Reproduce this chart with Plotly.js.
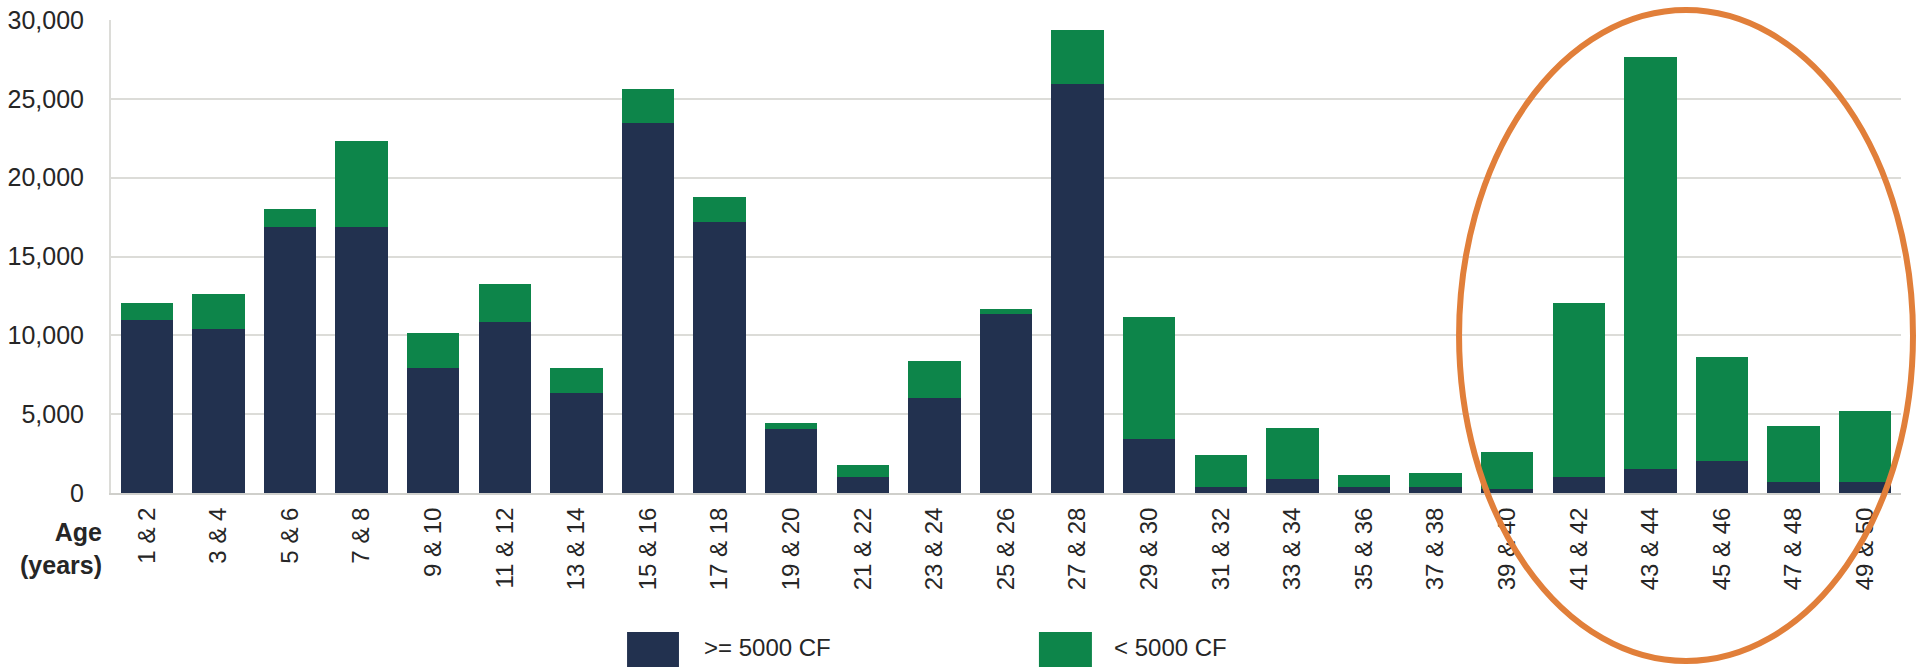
<!DOCTYPE html>
<html>
<head>
<meta charset="utf-8">
<script src="https://cdn.plot.ly/plotly-3.0.1.min.js"></script>
<style>
  html, body { margin: 0; padding: 0; background: #ffffff; }
  #chart { width: 1929px; height: 667px; }
</style>
</head>
<body>
<div id="chart"></div>
<script>
// Age groups (years)
const categories = ["1 & 2", "3 & 4", "5 & 6", "7 & 8", "9 & 10", "11 & 12", "13 & 14",
  "15 & 16", "17 & 18", "19 & 20", "21 & 22", "23 & 24", "25 & 26", "27 & 28", "29 & 30",
  "31 & 32", "33 & 34", "35 & 36", "37 & 38", "39 & 40", "41 & 42", "43 & 44", "45 & 46",
  "47 & 48", "49 & 50"];

// >= 5000 CF
const largeCF = [10950, 10400, 16850, 16850, 7900, 10850, 6350, 23450, 17200, 4050, 1000,
  6050, 11350, 25950, 3400, 350, 900, 350, 400, 250, 1000, 1550, 2050, 700, 700];

// < 5000 CF
const smallCF = [1100, 2200, 1150, 5450, 2250, 2400, 1550, 2200, 1550, 400, 800, 2300, 350,
  3400, 7750, 2050, 3200, 800, 850, 2350, 11050, 26100, 6550, 3550, 4500];

const seriesNames = [">= 5000 CF", "< 5000 CF"];
const seriesColors = ["#22314f", "#0d854a"];

const yTickVals = [0, 5000, 10000, 15000, 20000, 25000, 30000];

const font = "Liberation Sans, Arial, Helvetica, sans-serif";

const traces = [
  {
    type: "bar", name: seriesNames[0], x: categories, y: largeCF,
    marker: { color: seriesColors[0], line: { width: 0 } }
  },
  {
    type: "bar", name: seriesNames[1], x: categories, y: smallCF,
    marker: { color: seriesColors[1], line: { width: 0 } }
  }
];

const layout = {
  width: 1929, height: 667,
  margin: { l: 111, r: 28, t: 20, b: 174 },
  paper_bgcolor: "#ffffff", plot_bgcolor: "#ffffff",
  barmode: "stack",
  bargap: 0.27,
  showlegend: false,
  font: { family: font, color: "#262626", size: 24 },
  xaxis: {
    type: "category",
    tickangle: -90,
    showline: true, linecolor: "#cfcfcb", linewidth: 2,
    showgrid: false, zeroline: false,
    ticks: "outside", ticklen: 3, tickcolor: "rgba(0,0,0,0)",
    tickfont: { family: font, size: 24, color: "#262626" }
  },
  yaxis: {
    range: [0, 30000],
    tickvals: yTickVals,
    tickformat: ",",
    showline: true, linecolor: "#dcdcd8", linewidth: 2,
    showgrid: true, gridcolor: "#dcdcd8", gridwidth: 2,
    zeroline: false,
    ticks: "outside", ticklen: 20, tickcolor: "rgba(0,0,0,0)",
    tickfont: { family: font, size: 25, color: "#262626" }
  },
  shapes: [
    // legend swatches
    { type: "rect", xref: "paper", yref: "paper", x0: 0.2883, x1: 0.3173, y0: -0.2939, y1: -0.40,
      fillcolor: seriesColors[0], line: { width: 0 } },
    { type: "rect", xref: "paper", yref: "paper", x0: 0.5184, x1: 0.5480, y0: -0.2939, y1: -0.40,
      fillcolor: seriesColors[1], line: { width: 0 } },
    // highlight ellipse
    { type: "circle", xref: "paper", yref: "paper", x0: 0.7531, x1: 1.0067, y0: -0.3552, y1: 1.0211,
      line: { color: "#e17f3a", width: 6 }, fillcolor: "rgba(0,0,0,0)" }
  ],
  annotations: [
    { xref: "paper", yref: "paper", x: -0.004, y: -0.118, xanchor: "right", yanchor: "middle",
      text: "<b>Age<br>(years)</b>", align: "right", showarrow: false,
      font: { family: font, size: 25, color: "#262626" } },
    { xref: "paper", yref: "paper", x: 0.3302, y: -0.3256, xanchor: "left", yanchor: "middle",
      text: seriesNames[0], showarrow: false, font: { family: font, size: 24, color: "#262626" } },
    { xref: "paper", yref: "paper", x: 0.5592, y: -0.3256, xanchor: "left", yanchor: "middle",
      text: seriesNames[1], showarrow: false, font: { family: font, size: 24, color: "#262626" } }
  ]
};

Plotly.newPlot("chart", traces, layout, { displayModeBar: false, staticPlot: true });
</script>
</body>
</html>
